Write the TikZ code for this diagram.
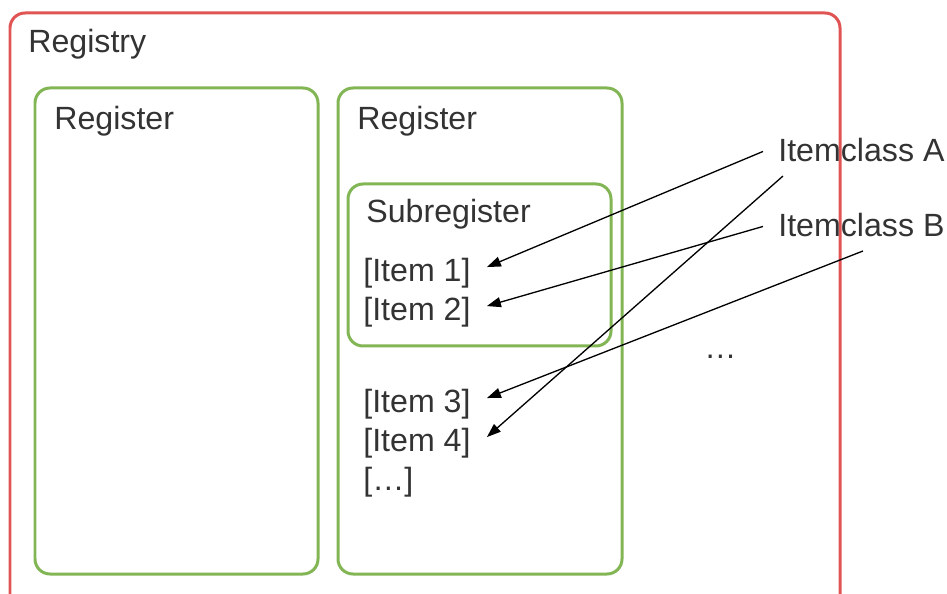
\documentclass[tikz,border=0pt]{standalone}
\usepackage{fontspec}
\setmainfont{Liberation Sans}
\usetikzlibrary{arrows.meta}
\definecolor{boxred}{RGB}{224,84,84}
\definecolor{boxgreen}{RGB}{130,182,85}
\definecolor{txtgray}{RGB}{51,51,51}
\tikzstyle{registry} = [draw=boxred, line width=0.06cm, rounded corners=0.3cm]
\tikzstyle{register} = [draw=boxgreen, line width=0.06cm, rounded corners=0.3cm]
\tikzstyle{title} = [anchor=base west, inner sep=0pt, text=txtgray, font=\fontsize{18.3}{22}\selectfont]
\tikzstyle{item} = [title, inner xsep=0.32cm, text height=17pt, text depth=0pt]
\tikzstyle{itemclass} = [title, inner xsep=0.3cm, text height=12pt, text depth=0pt]
\tikzstyle{arrow} = [line width=0.75pt, -{Triangle[length=0.28cm, width=0.2cm]}]
\begin{document}
\begin{tikzpicture}[x=0.02cm, y=-0.02cm]
    \useasboundingbox (0,0) rectangle (947,594);
    \clip (0,0) rectangle (947,594);
    % frames
    \draw [registry] (10,13) rectangle (840,640);
    \draw [register] (35,88) rectangle (318,574);
    \draw [register] (338,88) rectangle (622,574);
    \draw [register] (348,184) rectangle (611,346);
    % labels
    \node (registry) [title] at (28,53) {Registry};
    \node (regL) [title] at (54,130) {Register};
    \node (regR) [title] at (357,130) {Register};
    \node (subreg) [title] at (366,223) {Subregister};
    \node (it1) [item] at (347,282) {[Item 1]};
    \node (it2) [item] at (347,321) {[Item 2]};
    \node (it3) [item] at (347,413) {[Item 3]};
    \node (it4) [item] at (347,452) {[Item 4]};
    \node (itmore) [item] at (347,491) {[…]};
    \node (more) [title] at (704,359) {…};
    \node (clsA) [itemclass] at (763,162) {Itemclass A};
    \node (clsB) [itemclass] at (763,237) {Itemclass B};
    \coordinate (srcA) at (783,176);
    \coordinate (srcB) at (863,251);
    % links
    \draw [arrow] (clsA.west) -- (it1.east);
    \draw [arrow] (clsB.west) -- (it2.east);
    \draw [arrow] (srcB) -- (it3.east);
    \draw [arrow] (srcA) -- (it4.east);
\end{tikzpicture}
\end{document}
